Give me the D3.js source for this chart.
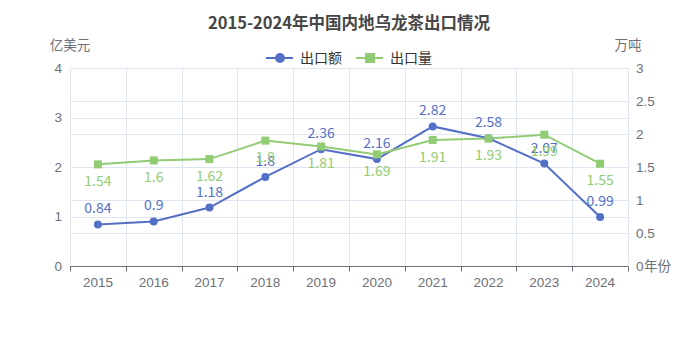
<!DOCTYPE html>
<html>
<head>
<meta charset="utf-8">
<script src="https://cdn.jsdelivr.net/npm/d3@7/dist/d3.min.js"></script>
<style>
  html, body { margin: 0; padding: 0; background: #fff; }
  svg { display: block; font-family: "Noto Sans CJK SC", "Noto Sans", sans-serif; }
</style>
</head>
<body>
<svg id="chart" width="698" height="349"></svg>
<script>
// Oolong tea exports from mainland China, 2015-2024
const years = ["2015", "2016", "2017", "2018", "2019", "2020", "2021", "2022", "2023", "2024"];
const exportValue = [0.84, 0.9, 1.18, 1.8, 2.36, 2.16, 2.82, 2.58, 2.07, 0.99];   // 亿美元
const exportVolume = [1.54, 1.6, 1.62, 1.9, 1.81, 1.69, 1.91, 1.93, 1.99, 1.55]; // 万吨
const leftTicks = [0, 1, 2, 3, 4];
const rightTicks = [0, 0.5, 1, 1.5, 2, 2.5, 3];

const titleText = "2015-2024年中国内地乌龙茶出口情况";
const seriesNames = ["出口额", "出口量"];
const colors = ["#5470c6", "#91cc75"];

const svg = d3.select("#chart");
const margin = { left: 70, right: 70, top: 68, bottom: 83 };
const W = 698, H = 349;
const x0 = margin.left, x1 = W - margin.right;
const y0 = H - margin.bottom, y1 = margin.top;

const x = d3.scaleBand().domain(years).range([x0, x1]);
const yL = d3.scaleLinear().domain([0, 4]).range([y0, y1]);
const yR = d3.scaleLinear().domain([0, 3]).range([y0, y1]);

const axisColor = "#6e7079";
const gridColor = "#e0e6f1";
const tickFont = 13.5;
const labelFont = 14;

// horizontal split lines for both value axes
const grid = svg.append("g");
leftTicks.forEach(t => {
  grid.append("line").attr("x1", x0).attr("x2", x1)
    .attr("y1", Math.round(yL(t)) + 0.5).attr("y2", Math.round(yL(t)) + 0.5)
    .attr("stroke", gridColor);
});
rightTicks.forEach(t => {
  grid.append("line").attr("x1", x0).attr("x2", x1)
    .attr("y1", Math.round(yR(t)) + 0.5).attr("y2", Math.round(yR(t)) + 0.5)
    .attr("stroke", gridColor);
});
// vertical split lines on category boundaries
const bounds = years.map(d => x(d)).concat([x1]);
bounds.forEach(b => {
  grid.append("line").attr("x1", Math.round(b) + 0.5).attr("x2", Math.round(b) + 0.5)
    .attr("y1", y1).attr("y2", y0)
    .attr("stroke", gridColor);
});

// category axis
const xAxis = d3.axisBottom(x).tickSize(0).tickPadding(11);
const gx = svg.append("g").attr("transform", `translate(0,${y0 + 0.5})`).call(xAxis);
gx.select(".domain").attr("stroke", axisColor).attr("d", `M${x0},0H${x1}`);
gx.selectAll("text").attr("fill", axisColor).attr("font-size", tickFont).attr("font-family", null);
bounds.forEach(b => {
  gx.append("line").attr("x1", Math.round(b) + 0.5).attr("x2", Math.round(b) + 0.5)
    .attr("y1", 0).attr("y2", 5).attr("stroke", axisColor);
});

// left value axis
const gl = svg.append("g").attr("transform", `translate(${x0},0)`)
  .call(d3.axisLeft(yL).tickValues(leftTicks).tickSize(0).tickPadding(8).tickFormat(d3.format("")));
gl.select(".domain").remove();
gl.selectAll("text").attr("fill", axisColor).attr("font-size", tickFont).attr("font-family", null);

// right value axis
const gr = svg.append("g").attr("transform", `translate(${x1},0)`)
  .call(d3.axisRight(yR).tickValues(rightTicks).tickSize(0).tickPadding(8).tickFormat(d3.format("")));
gr.select(".domain").remove();
gr.selectAll("text").attr("fill", axisColor).attr("font-size", tickFont).attr("font-family", null);

// axis names
svg.append("text").attr("x", x0).attr("y", 50).attr("text-anchor", "middle")
  .attr("fill", axisColor).attr("font-size", tickFont).text("亿美元");
svg.append("text").attr("x", x1).attr("y", 50).attr("text-anchor", "middle")
  .attr("fill", axisColor).attr("font-size", tickFont).text("万吨");
svg.append("text").attr("x", x1 + 16).attr("y", y0).attr("dy", "0.35em")
  .attr("fill", axisColor).attr("font-size", tickFont).text("年份");

// title
svg.append("text").attr("x", W / 2).attr("y", 29).attr("text-anchor", "middle")
  .attr("fill", "#464646").attr("font-size", 16.5).attr("font-weight", "bold").text(titleText);

const cx = d => x(d) + x.bandwidth() / 2;

// export value line (left axis)
const lineL = d3.line().x((d, i) => cx(years[i])).y(d => yL(d));
svg.append("path").datum(exportValue).attr("d", lineL)
  .attr("fill", "none").attr("stroke", colors[0]).attr("stroke-width", 2);
// export volume line (right axis)
const lineR = d3.line().x((d, i) => cx(years[i])).y(d => yR(d));
svg.append("path").datum(exportVolume).attr("d", lineR)
  .attr("fill", "none").attr("stroke", colors[1]).attr("stroke-width", 2);

// markers
svg.append("g").selectAll("circle").data(exportValue).join("circle")
  .attr("cx", (d, i) => cx(years[i])).attr("cy", d => yL(d)).attr("r", 4)
  .attr("fill", colors[0]);
svg.append("g").selectAll("rect").data(exportVolume).join("rect")
  .attr("x", (d, i) => cx(years[i]) - 4).attr("y", d => yR(d) - 4)
  .attr("width", 8).attr("height", 8).attr("fill", colors[1]);

// value labels: amount above, volume below
svg.append("g").selectAll("text").data(exportValue).join("text")
  .attr("x", (d, i) => cx(years[i])).attr("y", d => yL(d) - 11)
  .attr("text-anchor", "middle").attr("fill", colors[0]).attr("font-size", labelFont)
  .text(d => d);
svg.append("g").selectAll("text").data(exportVolume).join("text")
  .attr("x", (d, i) => cx(years[i])).attr("y", d => yR(d) + 9).attr("dy", "0.9em")
  .attr("text-anchor", "middle").attr("fill", colors[1]).attr("font-size", labelFont)
  .text(d => d);

// legend
const legend = svg.append("g").attr("transform", "translate(266,58)");
const lg0 = legend.append("g");
lg0.append("line").attr("x1", 0).attr("x2", 27).attr("stroke", colors[0]).attr("stroke-width", 2);
lg0.append("circle").attr("cx", 14).attr("r", 5).attr("fill", colors[0]);
lg0.append("text").attr("x", 34).attr("dy", "0.35em").attr("fill", "#333").attr("font-size", labelFont).text(seriesNames[0]);
const lg1 = legend.append("g").attr("transform", "translate(90,0)");
lg1.append("line").attr("x1", 0).attr("x2", 27).attr("stroke", colors[1]).attr("stroke-width", 2);
lg1.append("rect").attr("x", 9).attr("y", -5).attr("width", 10).attr("height", 10).attr("fill", colors[1]);
lg1.append("text").attr("x", 34).attr("dy", "0.35em").attr("fill", "#333").attr("font-size", labelFont).text(seriesNames[1]);
</script>
</body>
</html>
